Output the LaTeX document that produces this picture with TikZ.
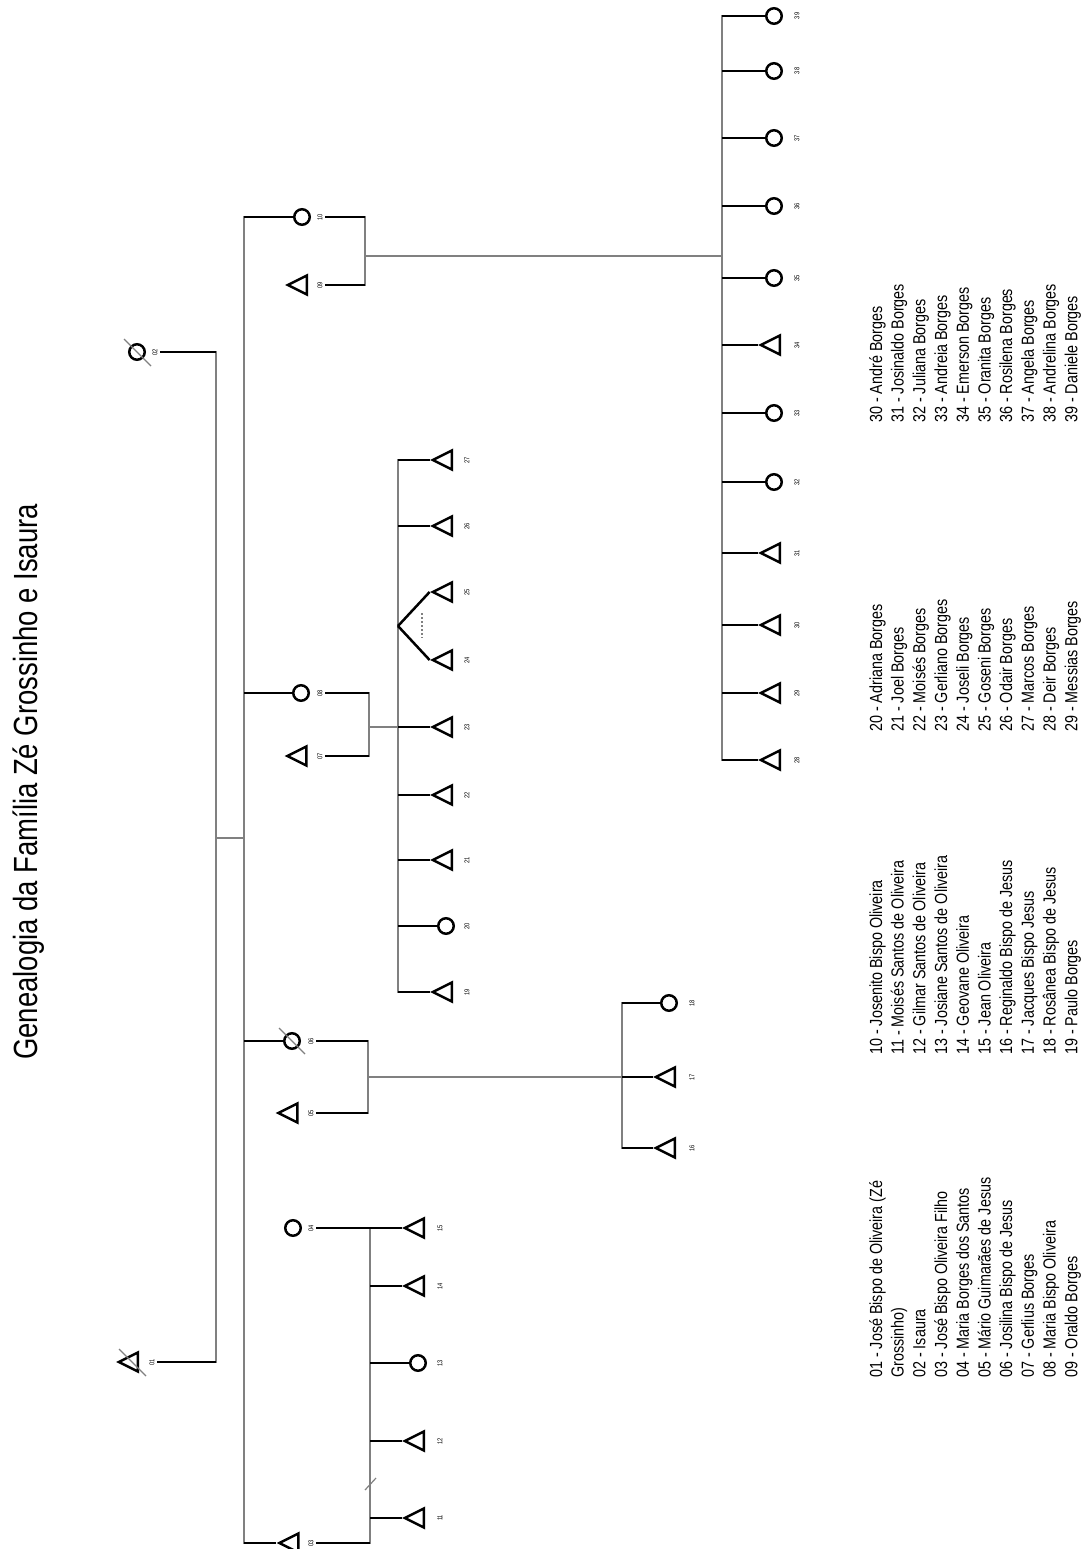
\documentclass[tikz,border=0pt]{standalone}
\usepackage{fontspec}
\setmainfont{Liberation Sans}
\newfontfamily\nfont{Liberation Sans}[FakeStretch=0.82]
\usetikzlibrary{shapes.geometric}
\begin{document}
\begin{tikzpicture}[x=1pt,y=-1pt,
  fem/.style={circle, draw, line width=2.5pt, minimum size=15.5pt, inner sep=0pt},
  mal/.style={isosceles triangle, isosceles triangle stretches, shape border rotate=180,
              draw, line width=2.5pt, minimum width=19pt, minimum height=19pt, inner sep=0pt},
  lab/.style={rotate=90, inner sep=2.5pt, font=\nfont\fontsize{7}{8}\selectfont},
  blk/.style={line width=2.5pt, black},
  gry/.style={line width=2.2pt, gray, line cap=rect},
  mar/.style={line width=1.5pt, gray},
  dead/.style={line width=1.2pt, gray},
  leg/.style={rotate=90, anchor=base west, inner sep=0pt, font=\nfont\fontsize{17.5}{20}\selectfont},
  ttl/.style={rotate=90, anchor=base west, inner sep=0pt, font=\nfont\fontsize{33.5}{40}\selectfont}]
\useasboundingbox[fill=white] (0,0) rectangle (1086,1549);

% title
\node[ttl] (title) at (37,1060) {Genealogia da Família Zé Grossinho e Isaura};

% ---------- generation 1 ----------
\node[mal] (p01) at (132,1362) {};
\node[lab] (l01) at (152,1362) {01};
\node[fem] (p02) at (137,352) {};
\node[lab] (l02) at (155,352) {02};
\coordinate (k01) at (216,1362);
\coordinate (k02) at (216,352);
\coordinate (m01) at (216,838);
\coordinate (m12) at (244,838);

% ---------- generation 2 ----------
\node[fem] (p10) at (302,217) {};  \node[lab] (l10) at (320,217) {10};
\node[mal] (p09) at (301,285) {};  \node[lab] (l09) at (320,285) {09};
\node[fem] (p08) at (301,693) {};  \node[lab] (l08) at (320,693) {08};
\node[mal] (p07) at (300.5,756) {}; \node[lab] (l07) at (320,756) {07};
\node[fem] (p06) at (292,1041) {}; \node[lab] (l06) at (311,1041) {06};
\node[mal] (p05) at (291.5,1113) {}; \node[lab] (l05) at (311,1113) {05};
\node[fem] (p04) at (293,1228) {}; \node[lab] (l04) at (311,1228) {04};
\node[mal] (p03) at (292.5,1543) {}; \node[lab] (l03) at (311,1543) {03};

\coordinate (bv10) at (244,217);
\coordinate (bv08) at (244,693);
\coordinate (bv06) at (244,1041);
\coordinate (bv03) at (244,1543);
\coordinate (k10) at (365,217);
\coordinate (k09) at (365,285);
\coordinate (m910) at (365,256);
\coordinate (j910) at (722,256);
\coordinate (k08) at (369,693);
\coordinate (k07) at (369,756);
\coordinate (m78) at (369,727);
\coordinate (k06) at (368,1041);
\coordinate (k05) at (368,1113);
\coordinate (m56) at (368,1077);
\coordinate (k04) at (370,1228);
\coordinate (k03) at (370,1543);

% ---------- generation 3 ----------
% children of 03/04
\foreach \n/\s/\y in {11/mal/1518, 12/mal/1441, 13/fem/1363, 14/mal/1286, 15/mal/1228} {
  \node[\s] (p\n) at (418,\y) {};
  \node[lab] (l\n) at (440,\y) {\n};
  \coordinate (j\n) at (370,\y);
}
% children of 05/06
\foreach \n/\s/\y in {16/mal/1148, 17/mal/1077, 18/fem/1003} {
  \node[\s] (p\n) at (669,\y) {};
  \node[lab] (l\n) at (692,\y) {\n};
  \coordinate (j\n) at (622,\y);
}
% children of 07/08
\foreach \n/\s/\y in {19/mal/992, 20/fem/926, 21/mal/860, 22/mal/795, 23/mal/727, 24/mal/660, 25/mal/592, 26/mal/526, 27/mal/460} {
  \node[\s] (p\n) at (446,\y) {};
  \node[lab] (l\n) at (467,\y) {\n};
  \coordinate (j\n) at (398,\y);
}
\coordinate (tw) at (398,626);
\coordinate (tw1) at (422,613);
\coordinate (tw2) at (422,638);
% children of 09/10
\foreach \n/\s/\y in {28/mal/760, 29/mal/693, 30/mal/625, 31/mal/553, 32/fem/482, 33/fem/413, 34/mal/345, 35/fem/278, 36/fem/206, 37/fem/138, 38/fem/71, 39/fem/16} {
  \node[\s] (p\n) at (774,\y) {};
  \node[lab] (l\n) at (797,\y) {\n};
  \coordinate (j\n) at (722,\y);
}
\coordinate (sl1) at (365,1490);
\coordinate (sl2) at (376,1478);
% deceased-mark end points (upper left to lower right)
\coordinate (d01a) at (119,1349); \coordinate (d01b) at (146,1376);
\coordinate (d02a) at (124,339);  \coordinate (d02b) at (151,366);
\coordinate (d06a) at (279,1028); \coordinate (d06b) at (305,1054);

% ---------- gray connectors ----------
\draw[gry] (k02) -- (k01);
\draw[gry] (bv10) -- (bv03);
\draw[gry] (k10) -- (k09);
\draw[gry] (k08) -- (k07);
\draw[gry] (k06) -- (k05);
\draw[gry] (k04) -- (k03);
\draw[gry] (j27) -- (j19);
\draw[gry] (j18) -- (j16);
\draw[gry] (j39) -- (j28);
\draw[mar] (m01) -- (m12);
\draw[mar] (m910) -- (j910);
\draw[mar] (m78) -- (j23);
\draw[mar] (m56) -- (j17);
\draw[dead] (sl1) -- (sl2);

% ---------- black lines ----------
\draw[blk] (l01) -- (k01);
\draw[blk] (l02) -- (k02);
\draw[blk] (bv10) -- (p10);
\draw[blk] (bv08) -- (p08);
\draw[blk] (bv06) -- (p06);
\draw[blk] (bv03) -- (p03);
\draw[blk] (l10) -- (k10);
\draw[blk] (l09) -- (k09);
\draw[blk] (l08) -- (k08);
\draw[blk] (l07) -- (k07);
\draw[blk] (l06) -- (k06);
\draw[blk] (l05) -- (k05);
\draw[blk] (l04) -- (k04);
\draw[blk] (l03) -- (k03);
\foreach \n in {11,12,13,14,15,16,17,18,19,20,21,22,23,26,27,28,29,30,31,32,33,34,35,36,37,38,39} {
  \draw[blk] (j\n) -- (p\n);
}
\draw[blk] (tw) -- (p24.apex);
\draw[blk] (tw) -- (p25.apex);
\draw[gray, line width=1.3pt, dash pattern=on 1.5pt off 2.5pt] (tw1) -- (tw2);

% deceased marks
\draw[dead] (d01a) -- (d01b);
\draw[dead] (d02a) -- (d02b);
\draw[dead] (d06a) -- (d06b);

% ---------- legend ----------
\foreach \t [count=\i from 0] in {{01 - José Bispo de Oliveira (Zé}, {Grossinho)}, {02 - Isaura}, {03 - José Bispo Oliveira Filho}, {04 - Maria Borges dos Santos}, {05 - Mário Guimarães de Jesus}, {06 - Josilina Bispo de Jesus}, {07 - Gerlius Borges}, {08 - Maria Bispo Oliveira}, {09 - Oraldo Borges}} {
  \node[leg] (ca\i) at ({882+21.7*\i},1378) {\t};
}
\foreach \t [count=\i from 0] in {{10 - Josenito Bispo Oliveira}, {11 - Moisés Santos de Oliveira}, {12 - Gilmar Santos de Oliveira}, {13 - Josiane Santos de Oliveira}, {14 - Geovane Oliveira}, {15 - Jean Oliveira}, {16 - Reginaldo Bispo de Jesus}, {17 - Jacques Bispo Jesus}, {18 - Rosânea Bispo de Jesus}, {19 - Paulo Borges}} {
  \node[leg] (cb\i) at ({882+21.7*\i},1055) {\t};
}
\foreach \t [count=\i from 0] in {{20 - Adriana Borges}, {21 - Joel Borges}, {22 - Moisés Borges}, {23 - Gerliano Borges}, {24 - Joseli Borges}, {25 - Goseni Borges}, {26 - Odair Borges}, {27 - Marcos Borges}, {28 - Deir Borges}, {29 - Messias Borges}} {
  \node[leg] (cc\i) at ({882+21.7*\i},732) {\t};
}
\foreach \t [count=\i from 0] in {{30 - André Borges}, {31 - Josinaldo Borges}, {32 - Juliana Borges}, {33 - Andreia Borges}, {34 - Emerson Borges}, {35 - Oranita Borges}, {36 - Rosilena Borges}, {37 - Angela Borges}, {38 - Andrelina Borges}, {39 - Daniele Borges}} {
  \node[leg] (cd\i) at ({882+21.7*\i},423) {\t};
}
\end{tikzpicture}
\end{document}
